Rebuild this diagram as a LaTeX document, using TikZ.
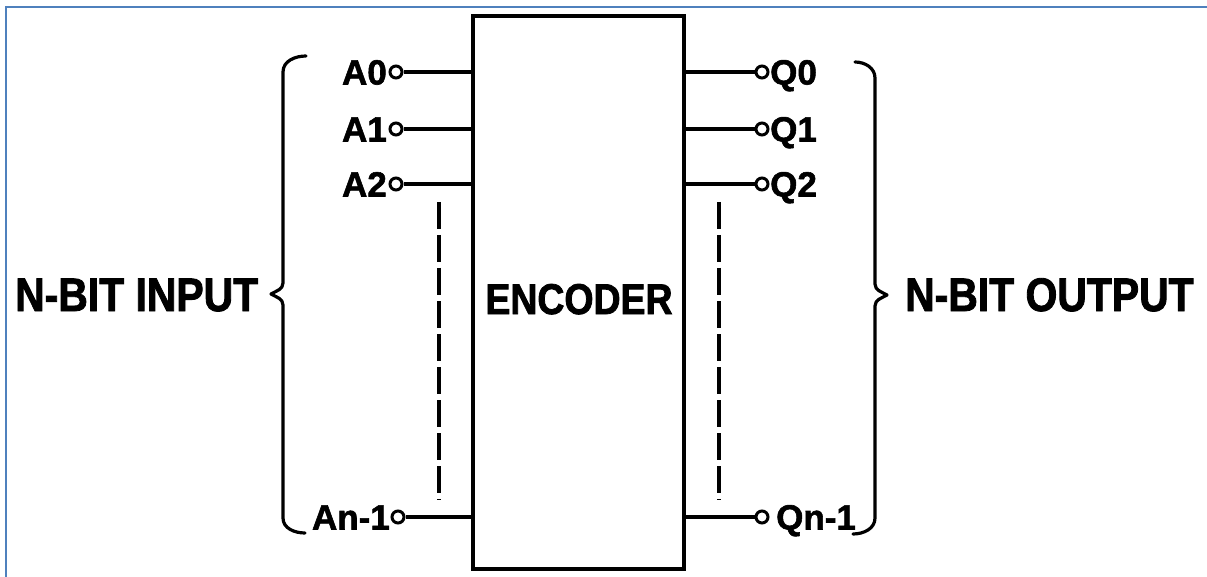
\documentclass[tikz,border=0pt]{standalone}
\usepackage{fontspec}
\setmainfont{Liberation Sans}[BoldFeatures={FakeBold=1.6}]
\newfontfamily\condfont{Liberation Sans}[FakeStretch=0.87, BoldFeatures={FakeBold=1.8}]
\definecolor{frameblue}{RGB}{79,129,189}
\begin{document}
\begin{tikzpicture}[x=1pt,y=-1pt,
  wire/.style={line width=3.2pt},
  pin/.style={circle, draw, line width=3pt, fill=white, inner sep=0pt, minimum size=12pt},
  lbl/.style={font=\fontsize{35}{37}\selectfont\bfseries, inner sep=0pt},
  big/.style={font=\condfont\fontsize{47}{50}\selectfont\bfseries, inner sep=0pt},
  brc/.style={line width=3.2pt, line cap=round, line join=round},
  dotsline/.style={line width=3.2pt, dash pattern=on 27pt off 6pt}]
\useasboundingbox (0,0) rectangle (1207,577);
% frame
\draw[frameblue, line width=2pt] (6,577) -- (6,7) -- (1207,7);
% encoder box
\node[draw, line width=3.4pt, minimum width=211pt, minimum height=553pt, inner sep=0pt] (enc) at (578.5,292.5) {};
\node[big, font=\condfont\fontsize{43}{46}\selectfont\bfseries, anchor=base] (enctxt) at (579,314) {ENCODER};
% input pins
\node[pin] (a0) at (396,72) {};
\node[pin] (a1) at (396,129) {};
\node[pin] (a2) at (396,184) {};
\node[pin] (an) at (398,517) {};
\draw[wire] (a0) -- (a0 -| enc.west);
\draw[wire] (a1) -- (a1 -| enc.west);
\draw[wire] (a2) -- (a2 -| enc.west);
\draw[wire] (an) -- (an -| enc.west);
\node[lbl, anchor=base east] (la0) at (387,84.5) {A0};
\node[lbl, anchor=base east] (la1) at (387,141.5) {A1};
\node[lbl, anchor=base east] (la2) at (387,196.5) {A2};
\node[lbl, anchor=base east] (lan) at (390,529.5) {An-1};
% output pins
\node[pin] (q0) at (762,72) {};
\node[pin] (q1) at (762,129) {};
\node[pin] (q2) at (762,184) {};
\node[pin] (qn) at (762,517) {};
\draw[wire] (q0 -| enc.east) -- (q0);
\draw[wire] (q1 -| enc.east) -- (q1);
\draw[wire] (q2 -| enc.east) -- (q2);
\draw[wire] (qn -| enc.east) -- (qn);
\node[lbl, anchor=base west] (lq0) at (770,84.5) {Q0};
\node[lbl, anchor=base west] (lq1) at (770,141.5) {Q1};
\node[lbl, anchor=base west] (lq2) at (770,196.5) {Q2};
\node[lbl, anchor=base west] (lqn) at (776,529.5) {Qn-1};
% dashed continuation lines
\coordinate (dl1) at (439,202);
\coordinate (dl2) at (439,500);
\coordinate (dr1) at (719,202);
\coordinate (dr2) at (719,500);
\draw[dotsline] (dl1) -- (dl2);
\draw[dotsline] (dr1) -- (dr2);
% left brace
\draw[brc] (306,56) to[out=180,in=90] (283,72) -- (283,283) to[out=-90,in=30] (271,294) to[out=-30,in=90] (283,305) -- (283,518) to[out=-90,in=180] (305,533);
% right brace
\draw[brc] (855,62) to[out=0,in=90] (875,78) -- (875,284) to[out=-90,in=150] (887,295) to[out=210,in=90] (875,306) -- (875,518) to[out=-90,in=0] (853,534);
% big labels
\node[big, anchor=base west] (nin) at (15,311) {N-BIT INPUT};
\node[big, anchor=base west] (nout) at (905,311) {N-BIT OUTPUT};
\end{tikzpicture}
\end{document}
